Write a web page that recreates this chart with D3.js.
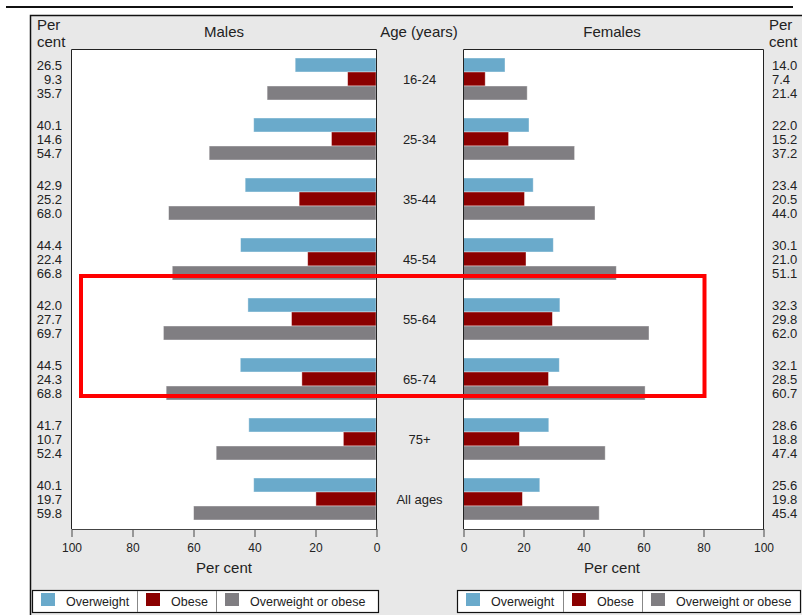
<!DOCTYPE html>
<html>
<head>
<meta charset="utf-8">
<script src="https://cdn.jsdelivr.net/npm/d3@7"></script>
<style>
    body { margin: 0; background: #fff; }
    text { font-family: "Liberation Sans", Arial, sans-serif; fill: #222; }
</style>
</head>
<body>
<div id="chart"></div>
<script>
const ages = ["16-24", "25-34", "35-44", "45-54", "55-64", "65-74", "75+", "All ages"];
const series = ["Overweight", "Obese", "Overweight or obese"];
const colors = ["#6aaacb", "#8b0000", "#807e82"];

const maleOverweight = [26.5, 40.1, 42.9, 44.4, 42.0, 44.5, 41.7, 40.1];
const maleObese = [9.3, 14.6, 25.2, 22.4, 27.7, 24.3, 10.7, 19.7];
const maleEither = [35.7, 54.7, 68.0, 66.8, 69.7, 68.8, 52.4, 59.8];

const femaleOverweight = [14.0, 22.0, 23.4, 30.1, 32.3, 32.1, 28.6, 25.6];
const femaleObese = [7.4, 15.2, 20.5, 21.0, 29.8, 28.5, 18.8, 19.8];
const femaleEither = [21.4, 37.2, 44.0, 51.1, 62.0, 60.7, 47.4, 45.4];

const tickValues = [0, 20, 40, 60, 80, 100];

// highlighted age groups (red box)
const highlight = ["55-64", "65-74"];

const W = 802, H = 615;
const plotTop = 49, plotBottom = 529;

const svg = d3.select("#chart").append("svg")
    .attr("width", W)
    .attr("height", H);

// rows: one per age group and series
function rows(a, b, c) {
    const out = [];
    ages.forEach((age, i) => {
        [a[i], b[i], c[i]].forEach((v, j) => out.push({ age: age, s: series[j], v: v }));
    });
    return out;
}
const maleRows = rows(maleOverweight, maleObese, maleEither);
const femaleRows = rows(femaleOverweight, femaleObese, femaleEither);

const y = d3.scaleBand().domain(ages).range([plotTop, plotBottom])
    .paddingInner(0.3).paddingOuter(0.15);
const ySub = d3.scaleBand().domain(series).range([0, y.bandwidth()]);
const color = d3.scaleOrdinal().domain(series).range(colors);

const xL = d3.scaleLinear().domain([0, 100]).range([376, 71]);
const xR = d3.scaleLinear().domain([0, 100]).range([463, 763]);

// top rule
svg.append("line")
    .attr("x1", 6).attr("x2", 793).attr("y1", 7).attr("y2", 7)
    .attr("stroke", "#111").attr("stroke-width", 2);

// grey panel
svg.append("rect")
    .attr("x", 30.5).attr("y", 15.5).attr("width", W).attr("height", H)
    .attr("fill", "#e8e8e8").attr("stroke", "#111").attr("stroke-width", 1.5);

// plot areas
[[71, 376], [463, 763]].forEach(([x0, x1]) => {
    svg.append("rect")
        .attr("x", x0).attr("y", plotTop).attr("width", x1 - x0).attr("height", plotBottom - plotTop)
        .attr("fill", "#fff");
});

// bars
svg.append("g").selectAll("rect")
    .data(maleRows)
    .join("rect")
    .attr("x", d => xL(d.v))
    .attr("y", d => y(d.age) + ySub(d.s))
    .attr("width", d => xL(0) - xL(d.v))
    .attr("height", ySub.bandwidth())
    .attr("fill", d => color(d.s))
    .attr("stroke", "#fff").attr("stroke-opacity", 0.5).attr("stroke-width", 0.8);

svg.append("g").selectAll("rect")
    .data(femaleRows)
    .join("rect")
    .attr("x", xR(0))
    .attr("y", d => y(d.age) + ySub(d.s))
    .attr("width", d => xR(d.v) - xR(0))
    .attr("height", ySub.bandwidth())
    .attr("fill", d => color(d.s))
    .attr("stroke", "#fff").attr("stroke-opacity", 0.5).attr("stroke-width", 0.8);

// plot borders (top + sides)
[[71, 376], [463, 763]].forEach(([x0, x1]) => {
    svg.append("path")
        .attr("d", `M${x0 + 0.5},${plotBottom}V${plotTop + 0.5}H${x1 + 0.5}V${plotBottom}`)
        .attr("fill", "none").attr("stroke", "#222").attr("stroke-width", 1);
});

// value labels
svg.append("g").selectAll("text")
    .data(maleRows)
    .join("text")
    .attr("x", 62)
    .attr("y", d => y(d.age) + ySub(d.s) + ySub.bandwidth() / 2)
    .attr("dy", "0.35em")
    .attr("text-anchor", "end")
    .style("font-size", "13px")
    .text(d => d.v.toFixed(1));

svg.append("g").selectAll("text")
    .data(femaleRows)
    .join("text")
    .attr("x", 772)
    .attr("y", d => y(d.age) + ySub(d.s) + ySub.bandwidth() / 2)
    .attr("dy", "0.35em")
    .style("font-size", "13px")
    .text(d => d.v.toFixed(1));

// age labels
svg.append("g").selectAll("text")
    .data(ages)
    .join("text")
    .attr("x", 419.5)
    .attr("y", d => y(d) + y.bandwidth() / 2)
    .attr("dy", "0.35em")
    .attr("text-anchor", "middle")
    .style("font-size", "13px")
    .text(d => d);

// headers
const headers = [
    { t: "Males", x: 224 },
    { t: "Age (years)", x: 419 },
    { t: "Females", x: 612 },
];
svg.append("g").selectAll("text")
    .data(headers)
    .join("text")
    .attr("x", d => d.x).attr("y", 37)
    .attr("text-anchor", "middle")
    .style("font-size", "15px")
    .text(d => d.t);

[37, 769].forEach(x => {
    const t = svg.append("text").attr("x", x).attr("y", 30).style("font-size", "15px");
    t.append("tspan").attr("x", x).text("Per");
    t.append("tspan").attr("x", x).attr("dy", 16.5).text("cent");
});

// axes
function styleAxis(g) {
    g.selectAll(".domain").attr("stroke", "#444");
    g.selectAll(".tick line").attr("stroke", "#444");
    g.selectAll(".tick text")
        .style("font-size", "12px")
        .style("font-family", "Liberation Sans, Arial, sans-serif")
        .attr("fill", "#222");
}

svg.append("g")
    .attr("transform", `translate(0.5,${plotBottom})`)
    .call(d3.axisBottom(xL).tickValues(tickValues).tickSize(8).tickSizeOuter(0).tickPadding(6))
    .call(styleAxis);

svg.append("g")
    .attr("transform", `translate(0.5,${plotBottom})`)
    .call(d3.axisBottom(xR).tickValues(tickValues).tickSize(8).tickSizeOuter(0).tickPadding(6))
    .call(styleAxis);

[224, 612].forEach(x => {
    svg.append("text")
        .attr("x", x).attr("y", 573)
        .attr("text-anchor", "middle")
        .style("font-size", "15px")
        .text("Per cent");
});

// legends
function legend(x0, x1, dividers) {
    const g = svg.append("g");
    g.append("rect")
        .attr("x", x0 + 0.5).attr("y", 590.5).attr("width", x1 - x0).attr("height", 22)
        .attr("fill", "#fff").attr("stroke", "#111").attr("stroke-width", 1.2);
    const starts = [x0].concat(dividers);
    dividers.forEach(dx => {
        g.append("line")
            .attr("x1", dx + 0.5).attr("x2", dx + 0.5).attr("y1", 591).attr("y2", 612)
            .attr("stroke", "#888");
    });
    series.forEach((s, i) => {
        g.append("rect")
            .attr("x", starts[i] + 9).attr("y", 593)
            .attr("width", 14).attr("height", 13)
            .attr("fill", color(s));
        g.append("text")
            .attr("x", starts[i] + 34).attr("y", 606)
            .style("font-size", "12.5px")
            .text(s);
    });
}
legend(32, 378, [137, 216]);
legend(457, 800, [563, 642]);

// highlight box around 55-64 and 65-74
const hy0 = y(highlight[0]) - 22;
const hy1 = y(highlight[1]) + y.bandwidth() - 4;
svg.append("rect")
    .attr("x", 81).attr("y", hy0)
    .attr("width", 623.5).attr("height", hy1 - hy0)
    .attr("fill", "none").attr("stroke", "#ff0000").attr("stroke-width", 4);
</script>
</body>
</html>
